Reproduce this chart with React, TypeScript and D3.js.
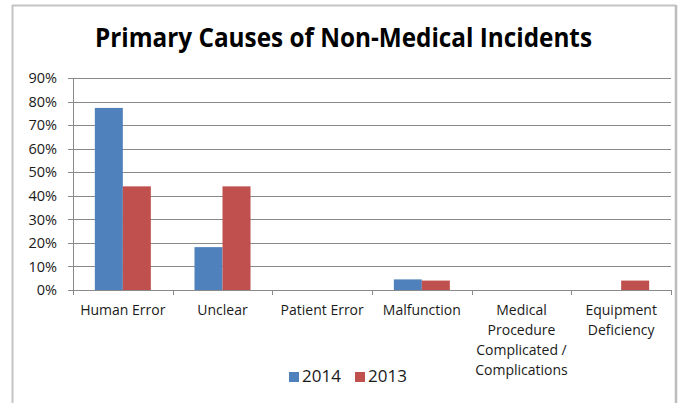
import React from "react";
import * as d3 from "d3";

const categories: string[][] = [
  ["Human Error"],
  ["Unclear"],
  ["Patient Error"],
  ["Malfunction"],
  ["Medical", "Procedure", "Complicated /", "Complications"],
  ["Equipment", "Deficiency"],
];
const seriesNames = ["2014", "2013"];
const values2014 = [0.773, 0.182, 0, 0.045, 0, 0];
const values2013 = [0.44, 0.44, 0, 0.04, 0, 0.04];
const yTicks = [0, 0.1, 0.2, 0.3, 0.4, 0.5, 0.6, 0.7, 0.8, 0.9];
const title = "Primary Causes of Non-Medical Incidents";

const colors = ["#4F81BD", "#C0504D"];
const FONT = "'Open Sans', sans-serif";

export default function App() {
  const W = 681;
  const H = 403;
  const left = 73;
  const right = 671;
  const top = 78;
  const bottom = 290;
  const keys = categories.map((c) => c.join(" "));
  const x0 = d3.scaleBand<string>().domain(keys).range([left, right]).paddingInner(0).paddingOuter(0);
  const bw = x0.bandwidth();
  const x1 = d3.scaleBand<string>().domain(seriesNames).range([bw * 0.219, bw * 0.781]);
  const y = d3.scaleLinear().domain([0, 0.9]).range([bottom, top]);
  const series = [values2014, values2013];
  const fmt = d3.format(".0%");

  return (
    <svg width={W} height={H} style={{ position: "fixed", left: 0, top: 0, background: "#fff" }}>
      <rect x={0} y={0} width={W} height={H} fill="#fff" />
      {/* chart frame */}
      <line x1={12.5} y1={5} x2={12.5} y2={H} stroke="#c4c4c4" strokeWidth={2} />
      <line x1={12} y1={5.5} x2={676} y2={5.5} stroke="#c4c4c4" strokeWidth={2} />
      <line x1={676} y1={5} x2={676} y2={H} stroke="#bdbdbd" strokeWidth={2.5} />
      {/* title */}
      <text
        x={343.5}
        y={47}
        textAnchor="middle"
        fontFamily={FONT}
        fontWeight={700}
        fontSize={27}
        fill="#000"
        textLength={497}
        lengthAdjust="spacingAndGlyphs"
      >
        {title}
      </text>
      {/* gridlines */}
      {yTicks.map((t) => (
        <g key={t}>
          <line x1={left - 5} x2={right} y1={Math.round(y(t)) + 0.5} y2={Math.round(y(t)) + 0.5} stroke="#8a8a8a" strokeWidth={1} />
          <text
            x={57}
            y={y(t)}
            dy="0.36em"
            textAnchor="end"
            fontFamily={FONT}
            fontSize={14.5}
            fill="#1a1a1a"
          >
            {fmt(t)}
          </text>
        </g>
      ))}
      {/* y axis */}
      <line x1={left + 0.5} x2={left + 0.5} y1={top} y2={bottom} stroke="#8a8a8a" />
      {/* bars */}
      {keys.map((k, i) =>
        seriesNames.map((s, j) => (
          <rect
            key={k + s}
            x={(x0(k) as number) + (x1(s) as number)}
            y={y(series[j][i])}
            width={x1.bandwidth()}
            height={bottom - y(series[j][i])}
            fill={colors[j]}
          />
        ))
      )}
      {/* x axis */}
      <line x1={left} x2={right} y1={bottom + 0.5} y2={bottom + 0.5} stroke="#8a8a8a" />
      {keys.map((k, i) => (
        <line
          key={"t" + k}
          x1={Math.round(x0(k) as number) + 0.5}
          x2={Math.round(x0(k) as number) + 0.5}
          y1={bottom}
          y2={bottom + 5}
          stroke="#8a8a8a"
        />
      ))}
      <line x1={right + 0.5} x2={right + 0.5} y1={bottom} y2={bottom + 5} stroke="#8a8a8a" />
      {/* category labels */}
      {categories.map((lines, i) => (
        <text
          key={"c" + i}
          x={(x0(keys[i]) as number) + bw / 2}
          y={315}
          textAnchor="middle"
          fontFamily={FONT}
          fontSize={14}
          fill="#1a1a1a"
        >
          {lines.map((ln, li) => (
            <tspan key={li} x={(x0(keys[i]) as number) + bw / 2} y={315 + li * 20}>
              {ln}
            </tspan>
          ))}
        </text>
      ))}
      {/* legend */}
      {seriesNames.map((s, j) => {
        const lx = 289 + j * 66;
        return (
          <g key={"l" + s}>
            <rect x={lx} y={372} width={10} height={10} fill={colors[j]} />
            <text x={lx + 13} y={382} fontFamily={FONT} fontSize={17} fill="#1a1a1a">
              {s}
            </text>
          </g>
        );
      })}
    </svg>
  );
}
